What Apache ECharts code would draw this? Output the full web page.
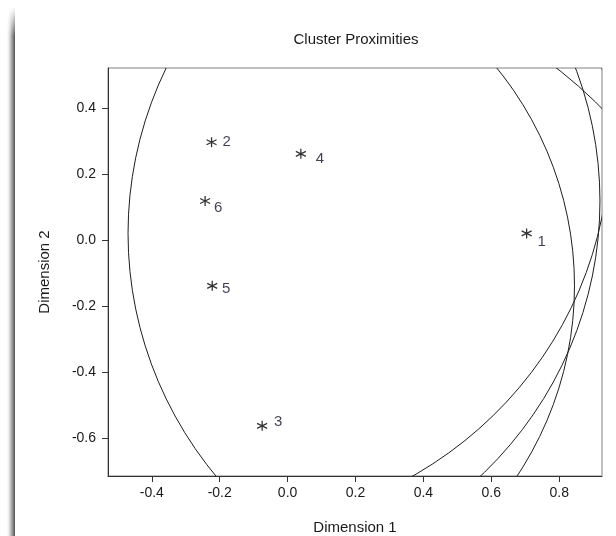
<!DOCTYPE html>
<html>
<head>
<meta charset="utf-8">
<title>Cluster Proximities</title>
<script src="https://cdn.jsdelivr.net/npm/echarts@6/dist/echarts.min.js"></script>
<style>
  html, body { margin: 0; padding: 0; background: #fff; }
  #chart { width: 616px; height: 536px; }
</style>
</head>
<body>
<div id="chart"></div>
<script>
// Cluster centres in the two-dimensional solution
const clusterIds = ['1', '2', '3', '4', '5', '6'];
const dim1 = [0.704, -0.224, -0.075, 0.039, -0.222, -0.243];
const dim2 = [0.020, 0.296, -0.563, 0.261, -0.139, 0.118];
// Proximity radius drawn around each centre (cluster 4 has none)
const radius = [1.174, 1.172, 1.388, null, 1.067, 1.163];

const xTicks = [-0.4, -0.2, 0.0, 0.2, 0.4, 0.6, 0.8];
const yTicks = [-0.6, -0.4, -0.2, 0.0, 0.2, 0.4];

// Label placement next to each asterisk, in pixels
const labelOffsets = [[15, 8], [15, 0], [16, -4], [19, 5], [14, 3], [13, 7]];

const FONT = '"Liberation Sans", Arial, sans-serif';
const asterisk = 'path://M5,0L5,10M0.67,2.5L9.33,7.5M0.67,7.5L9.33,2.5';

const pointData = clusterIds.map((id, i) => ({
  value: [dim1[i], dim2[i], id],
  label: { offset: labelOffsets[i] }
}));

const circleData = [];
clusterIds.forEach((id, i) => {
  if (radius[i] != null) circleData.push([dim1[i], dim2[i], radius[i]]);
});

const chart = echarts.init(document.getElementById('chart'), null, { renderer: 'canvas' });

chart.setOption({
  backgroundColor: '#fff',
  animation: false,
  title: {
    text: 'Cluster Proximities',
    left: 351, top: 27, textAlign: 'center',
    textStyle: { fontFamily: FONT, fontSize: 15, fontWeight: 'normal', color: '#1a1a1a' }
  },
  graphic: [
    {
      type: 'rect', silent: true, z: 0,
      shape: { x: 6, y: 8, width: 9, height: 528 },
      style: {
        fill: new echarts.graphic.LinearGradient(0, 0, 1, 0, [
          { offset: 0, color: 'rgba(255,255,255,0)' },
          { offset: 0.6, color: 'rgba(150,150,150,0.8)' },
          { offset: 1, color: 'rgba(80,80,80,1)' }
        ])
      }
    },
    {
      type: 'rect', silent: true, z: 1,
      shape: { x: 4, y: 0, width: 14, height: 36 },
      style: {
        fill: new echarts.graphic.LinearGradient(0, 0, 0, 1, [
          { offset: 0, color: 'rgba(255,255,255,1)' },
          { offset: 0.3, color: 'rgba(255,255,255,0.9)' },
          { offset: 1, color: 'rgba(255,255,255,0)' }
        ])
      }
    }
  ],
  grid: {
    left: 108, right: 14, top: 68, bottom: 60,
    outerBoundsMode: 'none', containLabel: false,
    show: true, borderColor: '#808080', borderWidth: 1, backgroundColor: 'transparent'
  },
  xAxis: {
    type: 'value', min: -0.529, max: 0.926,
    name: 'Dimension 1', nameLocation: 'middle', nameGap: 44,
    nameTextStyle: { fontFamily: FONT, fontSize: 15, color: '#1a1a1a' },
    splitLine: { show: false },
    axisLine: { show: true, onZero: false, lineStyle: { color: '#333', width: 1 } },
    axisTick: { show: true, length: 6, customValues: xTicks, lineStyle: { color: '#333' } },
    axisLabel: {
      customValues: xTicks, margin: 10,
      fontFamily: FONT, fontSize: 14, color: '#1a1a1a',
      formatter: v => v.toFixed(1)
    }
  },
  yAxis: {
    type: 'value', min: -0.715, max: 0.521,
    name: 'Dimension 2', nameLocation: 'middle', nameGap: 56, nameRotate: 90,
    nameTextStyle: { fontFamily: FONT, fontSize: 15, color: '#1a1a1a' },
    splitLine: { show: false },
    axisLine: { show: true, onZero: false, lineStyle: { color: '#333', width: 1 } },
    axisTick: { show: true, length: 6, customValues: yTicks, lineStyle: { color: '#333' } },
    axisLabel: {
      customValues: yTicks, margin: 12,
      fontFamily: FONT, fontSize: 14, color: '#1a1a1a',
      formatter: v => v.toFixed(1)
    }
  },
  series: [
    {
      type: 'custom',
      name: 'proximity',
      clip: true,
      silent: true,
      data: circleData,
      encode: { x: 0, y: 1 },
      renderItem: function (params, api) {
        const c = api.coord([api.value(0), api.value(1)]);
        const s = api.size([api.value(2), api.value(2)], [api.value(0), api.value(1)]);
        const rx = s[0], ry = s[1];
        const cs = params.coordSys;
        const d = 'M' + (c[0] - rx) + ',' + c[1] +
          ' A' + rx + ',' + ry + ' 0 1 0 ' + (c[0] + rx) + ',' + c[1] +
          ' A' + rx + ',' + ry + ' 0 1 0 ' + (c[0] - rx) + ',' + c[1] + ' Z';
        return {
          type: 'path',
          shape: { pathData: d },
          style: { fill: 'none', stroke: '#1e1e1e', lineWidth: 1 },
          clipPath: { type: 'rect', shape: { x: cs.x, y: cs.y, width: cs.width, height: cs.height } }
        };
      }
    },
    {
      type: 'scatter',
      name: 'clusters',
      symbol: asterisk,
      symbolSize: [10, 10],
      itemStyle: { color: 'rgba(0,0,0,0)', borderColor: '#000', borderWidth: 1.3 },
      data: pointData,
      label: {
        show: true, position: 'inside', align: 'center', verticalAlign: 'middle',
        fontFamily: FONT, fontSize: 15, color: '#10102a',
        formatter: p => p.value[2]
      },
      z: 3
    }
  ]
});
</script>
</body>
</html>
